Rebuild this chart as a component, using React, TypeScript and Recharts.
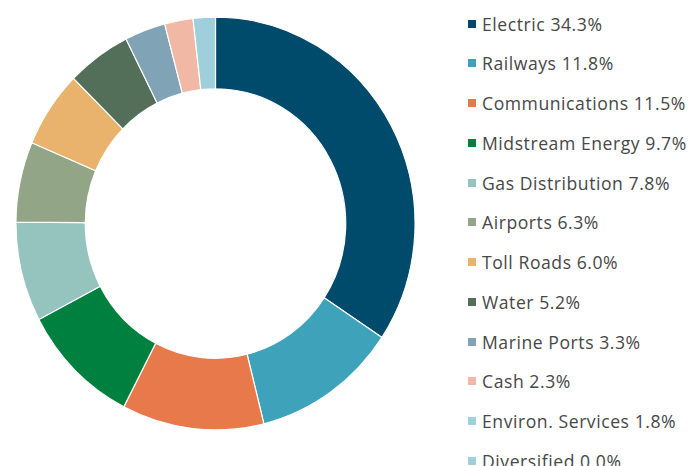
import React from "react";
import { PieChart, Pie, Cell, Legend } from "recharts";

const sectors = [
  "Electric",
  "Railways",
  "Communications",
  "Midstream Energy",
  "Gas Distribution",
  "Airports",
  "Toll Roads",
  "Water",
  "Marine Ports",
  "Cash",
  "Environ. Services",
  "Diversified",
];
const weights = [34.3, 11.8, 11.5, 9.7, 7.8, 6.3, 6.0, 5.2, 3.3, 2.3, 1.8, 0.0];
const colors = [
  "#004a6b",
  "#3fa2bb",
  "#e8794a",
  "#00803e",
  "#94c4bd",
  "#93a587",
  "#e9b36e",
  "#546f59",
  "#80a3b6",
  "#f1b9a5",
  "#9ecfdb",
  "#9ecfdb",
];

const data = sectors.map((name, i) => ({ name, value: weights[i] }));

const LegendContent = () => (
  <div style={{ position: "relative", width: 223, height: 466 }}>
    {data.map((d, i) => (
      <div
        key={d.name}
        style={{
          position: "absolute",
          left: 0,
          top: 23.5 + i * 39.75 - 12,
          height: 24,
          display: "flex",
          alignItems: "center",
          whiteSpace: "nowrap",
          fontFamily: "'Open Sans', 'Noto Sans', sans-serif",
          fontSize: 17.6,
          letterSpacing: 0.55,
          color: "#474747",
        }}
      >
        <span
          style={{
            display: "inline-block",
            width: 8,
            height: 8,
            background: colors[i],
            marginRight: 6,
          }}
        />
        <span>{`${d.name} ${d.value.toFixed(1)}%`}</span>
      </div>
    ))}
  </div>
);

export default function App() {
  return (
    <div
      className="donut-wrap"
      style={{ position: "absolute", left: 0, top: 0, width: 689, height: 466, background: "#fff" }}
    >
      <style>{`.donut-wrap g.recharts-pie { transform-box: view-box; transform-origin: 215.5px 223.5px; transform: scale(0.983, 1.017); }`}</style>
      <PieChart width={689} height={466} margin={{ top: 0, right: 0, bottom: 0, left: 0 }}>
        <Pie
          data={data}
          dataKey="value"
          nameKey="name"
          cx={215.5}
          cy={223.5}
          innerRadius={132.5}
          outerRadius={203}
          startAngle={90}
          endAngle={-270}
          stroke="#ffffff"
          strokeWidth={1.2}
          isAnimationActive={false}
        >
          {data.map((d, i) => (
            <Cell key={d.name} fill={colors[i]} />
          ))}
        </Pie>
        <Legend
          content={<LegendContent />}
          wrapperStyle={{ position: "absolute", left: 468, top: 0, width: 223, height: 466 }}
        />
      </PieChart>
    </div>
  );
}
